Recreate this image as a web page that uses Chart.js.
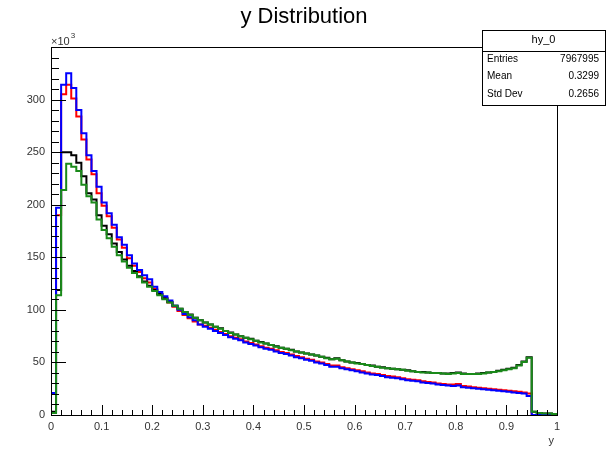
<!DOCTYPE html>
<html>
<head>
<meta charset="utf-8">
<script src="https://cdn.jsdelivr.net/npm/chart.js@4"></script>
<style>
  body { margin: 0; background: #fff; }
  canvas { display: block; }
</style>
</head>
<body>
<canvas id="grafico" width="606" height="451"></canvas>
<script>
// Contenidos por bin (en unidades de 10^3), 100 bins de 0 a 1
const azul = [21,197,314,325,311,290,268,247,232,217,
  202,192,181,169,162,152,144,138,133,129,
  122,117,113,109,104,100,96,93,90,86,
  84,82,80,78,76,74,72.5,71,69,67.5,
  66,64.5,63,62,60.5,59,58,56.5,55,54,
  52.5,51.5,50,49,47.5,46,46,44.5,43.5,42.5,
  41.5,40.5,39.5,38.5,38,37,36,35.5,35,34,
  33,32.5,32,31,30.5,30,29,28.5,28,27.5,
  28,26.5,26,25.5,25,24.5,24,23.5,23,22.5,
  22,21.5,21,20.5,18,0,0,0,0,0];

const rojo = [20,190,305,314,301,284,262,243,229,211,
  199,189,178,167,159,149,142,136,130,126,
  120,115,111,107,103,99,95,92,89,86,
  85,83,81,79,77,75,73.5,72,70,68.5,
  67,65.5,64,63,61.5,60,59,57.5,56,55,
  53.5,52.5,51,50,48.5,47,47,45.5,44.5,43.5,
  42.5,41.5,40.5,39.5,39,38,37,36.5,36,35,
  34,33.5,33,32,31.5,31,30,29.5,29,29,
  29.5,27.5,27,26.5,26,25.5,25,24.5,24,23.5,
  23,22.5,22,21.5,20.5,0,0,0,0,0];

const verde = [2,114,214,239,236,232,219,208,202,186,
  176,168,160,152,146,140,135,131,126,122,
  118,114,110,107,104,101,98,95,92.5,90,
  88,86,84,82,80,78,76.5,75,73.5,72,
  70.5,69,68,66.5,65,64,63,61.5,60.5,59.5,
  58.5,57.5,56.5,55.5,54,53,53.5,52,51,50,
  49,48.5,47.5,46.5,46,45,44.5,44,43.5,43,
  42,41.5,41,40.5,40.5,40,40,39.5,39,39.5,
  40,39,39,39,39,39.5,40.5,41,41.5,42.5,
  43.5,44.5,47,50.5,54.5,3,2,1.5,1.5,1];

const negro = [3,119,250,250,247,240,227,211,205,190,
  180,172,163,155,148,142,137,132,127,123,
  119,115,111,107.5,104,101,98,95.5,92.5,90,
  88,86,84,82.5,80,78.5,76.5,75,73.5,72.5,
  70.5,69.5,68,66.5,65.5,64,63,62,60.5,59.5,
  58.5,57.5,56.5,55.5,54.5,53,54,52,51,50,
  49.5,48.5,47.5,47,46,45.5,44.5,44,43.5,43,
  42.5,41.5,41,41,40.5,40,40,39.5,39.5,40,
  40.5,39.5,39,39,39.5,40,40.5,41,42,43,
  44,45,47.5,51,55,3,2,1.5,1.5,1];

const titulo = "y Distribution";
const statsNombre = "hy_0";
const statsFilas = [["Entries", "7967995"], ["Mean", "0.3299"], ["Std Dev", "0.2656"]];

const FUENTE = "'Liberation Sans', Arial, Helvetica, sans-serif";
const nBins = azul.length;

// pasar contenidos a puntos (borde inferior de cada bin + cierre en x=1)
function aPuntos(serie) {
    const pts = serie.map((v, i) => ({ x: i / nBins, y: v }));
    pts.push({ x: 1, y: serie[serie.length - 1] });
    return pts;
}

function dataset(serie, color) {
    return {
        data: aPuntos(serie),
        borderColor: color,
        borderWidth: 2,
        pointRadius: 0,
        fill: false,
        stepped: true,
        tension: 0
    };
}

// marco, marcas de ejes, titulo y caja de estadisticas estilo ROOT
const decoracion = {
    id: "decoracion",
    afterDraw(chart) {
        const ctx = chart.ctx;
        const area = chart.chartArea;
        const xs = chart.scales.x;
        const ys = chart.scales.y;
        ctx.save();
        ctx.strokeStyle = "#000";
        ctx.lineWidth = 1;

        // marcas eje x
        for (let i = 0; i <= 50; i++) {
            const px = Math.round(xs.getPixelForValue(i / 50)) + 0.5;
            const largo = (i % 5 === 0) ? 10 : 5;
            ctx.beginPath();
            ctx.moveTo(px, area.bottom);
            ctx.lineTo(px, area.bottom - largo);
            ctx.stroke();
        }
        // marcas eje y
        for (let v = 0; v <= 350; v += 10) {
            const py = Math.round(ys.getPixelForValue(v)) + 0.5;
            const largo = (v % 50 === 0) ? 15 : 8;
            ctx.beginPath();
            ctx.moveTo(area.left, py);
            ctx.lineTo(area.left + largo, py);
            ctx.stroke();
        }

        // marco
        ctx.strokeRect(Math.round(area.left) + 0.5, Math.round(area.top) + 0.5,
            Math.round(area.right - area.left), Math.round(area.bottom - area.top));

        // titulo
        ctx.fillStyle = "#000";
        ctx.font = "22px " + FUENTE;
        ctx.textAlign = "center";
        ctx.textBaseline = "middle";
        ctx.fillText(titulo, 304, 17);

        // x10^3
        ctx.fillStyle = "#333";
        ctx.font = "11px " + FUENTE;
        ctx.textAlign = "left";
        ctx.textBaseline = "alphabetic";
        ctx.fillText("\u00d710", 51, 45);
        const anchoX10 = ctx.measureText("\u00d710").width;
        ctx.font = "8px " + FUENTE;
        ctx.fillText("3", 51 + anchoX10 + 1, 38);

        // titulo eje x
        ctx.font = "11px " + FUENTE;
        ctx.textAlign = "right";
        ctx.fillText("y", area.right - 3, 444);

        // caja de estadisticas
        const bx = 482, by = 30, bw = 123, bh = 75;
        ctx.fillStyle = "#fff";
        ctx.fillRect(bx, by, bw, bh);
        ctx.strokeRect(bx + 0.5, by + 0.5, bw, bh);
        ctx.beginPath();
        ctx.moveTo(bx, 51.5);
        ctx.lineTo(bx + bw, 51.5);
        ctx.stroke();
        ctx.fillStyle = "#000";
        ctx.font = "11px " + FUENTE;
        ctx.textAlign = "center";
        ctx.textBaseline = "middle";
        ctx.fillText(statsNombre, bx + bw / 2, 40);
        ctx.font = "10px " + FUENTE;
        statsFilas.forEach((fila, i) => {
            const yy = 59 + i * 17.5;
            ctx.textAlign = "left";
            ctx.fillText(fila[0], bx + 5, yy);
            ctx.textAlign = "right";
            ctx.fillText(fila[1], bx + bw - 6, yy);
        });
        ctx.restore();
    }
};

const ctx = document.getElementById("grafico").getContext("2d");
new Chart(ctx, {
    type: "line",
    data: {
        datasets: [
            dataset(verde, "#1a8a1a"),
            dataset(azul, "#0000ff"),
            dataset(negro, "#000000"),
            dataset(rojo, "#ff0000")
        ]
    },
    options: {
        responsive: false,
        animation: false,
        layout: { padding: { top: 47, right: 49, left: 0, bottom: 0 } },
        plugins: {
            legend: { display: false },
            tooltip: { enabled: false },
            title: { display: false }
        },
        scales: {
            x: {
                type: "linear",
                min: 0,
                max: 1,
                grid: { display: false, drawTicks: false },
                border: { display: false },
                afterFit: s => { s.height = 36; },
                ticks: {
                    stepSize: 0.1,
                    padding: 5,
                    color: "#333",
                    font: { family: FUENTE, size: 11 },
                    maxRotation: 0,
                    autoSkip: false,
                    callback: v => String(Math.round(v * 10) / 10)
                }
            },
            y: {
                type: "linear",
                min: 0,
                max: 350,
                grid: { display: false, drawTicks: false },
                border: { display: false },
                afterFit: s => { s.width = 51; },
                ticks: {
                    stepSize: 50,
                    padding: 6,
                    color: "#333",
                    font: { family: FUENTE, size: 11 },
                    callback: v => (v <= 300 ? String(v) : "")
                }
            }
        }
    },
    plugins: [decoracion]
});
</script>
</body>
</html>
